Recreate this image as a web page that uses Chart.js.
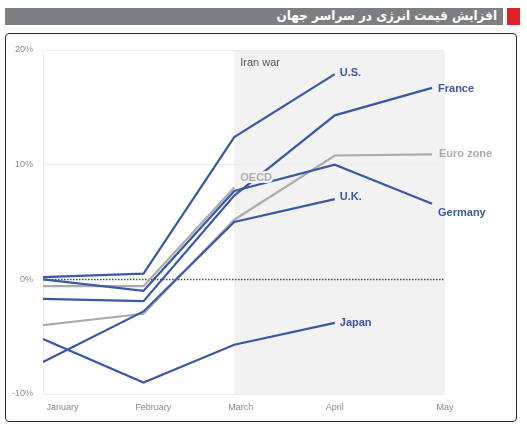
<!DOCTYPE html>
<html>
<head>
<meta charset="utf-8">
<script src="https://cdn.jsdelivr.net/npm/chart.js@4.4.1/dist/chart.umd.min.js"></script>
<style>
  html, body { margin: 0; padding: 0; background: #fff; }
  body { width: 527px; height: 428px; position: relative; overflow: hidden; }
  #titleBar { position: absolute; left: 5px; top: 8px; width: 498px; height: 17px; background: #7c7f82; }
  #titleText { position: absolute; right: 6px; top: 0; color: #fff; font: bold 12px "DejaVu Sans"; direction: rtl; white-space: nowrap; line-height: 17px; transform: scaleY(1.1); transform-origin: right center; }
  #redBox { position: absolute; left: 507px; top: 8px; width: 13px; height: 17px; background: #e31e24; }
  #frame { position: absolute; left: 5px; top: 33px; width: 512px; height: 389px; box-sizing: border-box; border: 1.5px solid #2a2a2a; border-radius: 4px; }
  #chartWrap { position: absolute; left: 6px; top: 34px; width: 510px; height: 387px; }
</style>
</head>
<body>
<div id="titleBar"><div id="titleText">افزایش قیمت انرژی در سراسر جهان</div></div>
<div id="redBox"></div>
<div id="frame"></div>
<div id="chartWrap"><canvas id="myChart"></canvas></div>

<script>
// month positions in days since Jan 1
const monthDays = [0, 31, 59, 90, 120];
const monthLabels = ['January', 'February', 'March', 'April', 'May'];
const monthLabelDays = [6, 34, 61, 90, 124];
const warStartDay = 59;

// y axis ticks (percent)
const yTicks = [-10, 0, 10, 20];

// energy price change, % (one value per month, null = no data)
const usValues = [0.2, 0.5, 12.4, 17.9, null];
const franceValues = [-1.7, -1.9, 7.3, 14.3, 16.7];
const germanyValues = [0.0, -1.0, 7.7, 10.0, 6.6];
const ukValues = [-7.2, -2.8, 5.0, 7.0, null];
const japanValues = [-5.2, -9.0, -5.7, -3.8, null];
const euroZoneValues = [-4.0, -3.0, 5.2, 10.8, 10.9];
const oecdValues = [-0.6, -0.6, 8.0, null, null];

const BLUE = '#3b57a5';
const GRAY = '#ababab';

function points(values) {
  return values
    .map((v, i) => (v === null ? null : { x: monthDays[i], y: v }))
    .filter(p => p !== null);
}

function series(name, values, color, dx, dy) {
  return {
    label: name,
    data: points(values),
    borderColor: color,
    borderWidth: 2.2,
    pointRadius: 0,
    tension: 0,
    tag: { color: color, dx: dx, dy: dy }
  };
}

// draws the shaded war period, the zero line and the end labels
const overlayPlugin = {
  id: 'overlay',
  beforeDraw(chart) {
    const { ctx, chartArea, scales: { x } } = chart;
    const x0 = x.getPixelForValue(warStartDay);
    ctx.save();
    ctx.fillStyle = '#f2f2f2';
    ctx.fillRect(x0, chartArea.top, chartArea.right - x0, chartArea.bottom - chartArea.top);
    ctx.fillStyle = '#555';
    ctx.font = '11px "Liberation Sans"';
    ctx.textBaseline = 'top';
    ctx.fillText('Iran war', x0 + 6, chartArea.top + 7);
    ctx.restore();
  },
  beforeDatasetsDraw(chart) {
    const { ctx, chartArea, scales: { y } } = chart;
    const y0 = Math.round(y.getPixelForValue(0)) + 0.5;
    ctx.save();
    ctx.strokeStyle = '#4a4a4a';
    ctx.lineWidth = 1.4;
    ctx.setLineDash([1.5, 1.5]);
    ctx.beginPath();
    ctx.moveTo(chartArea.left, y0);
    ctx.lineTo(chartArea.right, y0);
    ctx.stroke();
    ctx.restore();
  },
  afterDatasetsDraw(chart) {
    const { ctx, scales: { x, y } } = chart;
    ctx.save();
    ctx.textBaseline = 'middle';
    chart.data.datasets.forEach(ds => {
      const last = ds.data[ds.data.length - 1];
      const t = ds.tag;
      const px = x.getPixelForValue(last.x) + t.dx;
      const py = y.getPixelForValue(last.y) + t.dy;
      ctx.font = 'bold 11px "Liberation Sans"';
      if (ds.label === 'OECD') {
        ctx.strokeStyle = '#f4f4f4';
        ctx.lineWidth = 4;
        ctx.lineJoin = 'round';
        ctx.strokeText(ds.label, px, py);
      }
      ctx.fillStyle = t.color;
      ctx.fillText(ds.label, px, py);
    });
    ctx.restore();
  }
};

document.addEventListener('DOMContentLoaded', () => {
  const ctx = document.getElementById('myChart').getContext('2d');
  new Chart(ctx, {
    type: 'line',
    data: {
      datasets: [
        series('U.S.', usValues, BLUE, 5, -1),
        series('France', franceValues, BLUE, 6, 1),
        series('Germany', germanyValues, BLUE, 6, 9),
        series('U.K.', ukValues, BLUE, 5, -2),
        series('Japan', japanValues, BLUE, 5, 0),
        series('Euro zone', euroZoneValues, GRAY, 7, 0),
        series('OECD', oecdValues, GRAY, 6, -10)
      ]
    },
    options: {
      responsive: true,
      maintainAspectRatio: false,
      animation: false,
      layout: { padding: { left: 0, top: 16, right: 71, bottom: 0 } },
      plugins: {
        legend: { display: false },
        tooltip: { enabled: false }
      },
      scales: {
        x: {
          type: 'linear',
          min: 0,
          max: 124,
          afterBuildTicks(scale) {
            scale.ticks = monthLabelDays.map(v => ({ value: v }));
          },
          afterFit(scale) { scale.height = 27; },
          grid: { display: false, drawTicks: false },
          border: { display: false },
          ticks: {
            autoSkip: false,
            maxRotation: 0,
            padding: 8,
            color: '#8a8a8a',
            font: { family: 'Liberation Sans', size: 9 },
            callback: (v) => monthLabels[monthLabelDays.indexOf(v)]
          }
        },
        y: {
          min: -10,
          max: 20,
          afterBuildTicks(scale) {
            scale.ticks = yTicks.map(v => ({ value: v }));
          },
          afterFit(scale) { scale.width = 37; },
          grid: {
            drawTicks: false,
            color: (c) => (c.tick && c.tick.value === 0 ? 'rgba(0,0,0,0)' : '#ededed'),
            lineWidth: 1
          },
          border: { display: true, color: '#efefef' },
          ticks: {
            padding: 10,
            color: '#8f8f8f',
            font: { family: 'Liberation Sans', size: 9 },
            callback: (v) => v + '%'
          }
        }
      }
    },
    plugins: [overlayPlugin]
  });
});
</script>
</body>
</html>
